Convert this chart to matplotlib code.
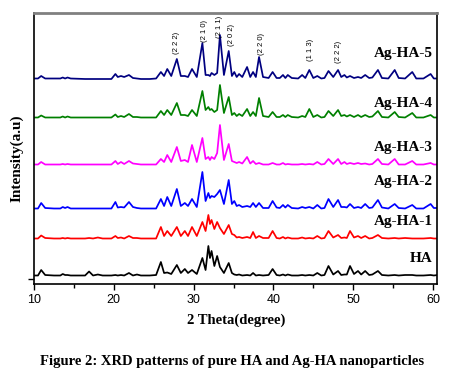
import matplotlib
matplotlib.use("Agg")
import matplotlib.pyplot as plt

# ---- data (2-theta vertices and intensities above each pattern's baseline) ----
two_theta = [10.0, 10.5, 10.9, 11.4, 12.5, 13.3, 13.6, 13.9, 14.2, 14.6,
             16.4, 16.9, 17.4, 18.0, 18.6, 19.7, 20.2, 20.5, 20.9, 21.3,
             21.9, 22.4, 22.9, 23.4, 24.5, 25.3, 25.9, 26.3, 26.7, 27.2,
             27.9, 28.4, 28.9, 29.3, 29.8, 30.4, 31.1, 31.5, 31.85, 32.05,
             32.25, 32.6, 32.95, 33.3, 33.8, 34.4, 34.8, 35.1, 35.4, 35.7,
             36.1, 36.7, 37.1, 37.45, 37.8, 38.2, 38.7, 39.4, 39.9, 40.4,
             40.8, 41.2, 41.5, 41.8, 42.3, 43.1, 43.6, 44.0, 44.5, 45.0,
             45.5, 46.0, 46.4, 46.9, 47.5, 48.1, 48.5, 48.9, 49.2, 49.6,
             50.1, 50.6, 51.0, 51.5, 52.0, 52.4, 53.1, 53.6, 54.4, 55.2,
             55.7, 56.5, 57.4, 57.9, 58.8, 59.7, 60.1, 60.6]

ha = [0.5, 0.5, 6, 1, 0.5, 0.5, 2, 1, 1, 0.5,
      0.5, 4.5, 0.5, 1.5, 0.5, 0.5, 1, 0.5, 1, 0.5,
      3, 0.5, 1.5, 0.5, 0.5, 1, 14, 3, 3.5, 2,
      11, 3, 7, 3, 6, 2, 18, 6, 30, 18,
      25, 10, 20, 9, 3, 13, 3, 1.5, 1, 1.5,
      0.5, 1, 0.5, 3, 0.5, 1, 0.5, 1, 7, 1,
      0.5, 1.5, 0.5, 1.5, 0.5, 0.5, 1, 0.5, 1, 0.5,
      3, 0.5, 1, 10, 1.5, 5, 1, 1.5, 1.5, 10,
      2, 5, 1.5, 5, 1, 1.5, 5, 1, 0.5, 1,
      0.5, 1, 1, 0.5, 0.5, 1, 0.5, 1]

ag_ha_1 = [0.5, 0.5, 3.5, 1, 0.5, 0.5, 1, 0.5, 1, 0.5,
           0.5, 1, 0.5, 1.5, 0.5, 0.5, 3, 1, 1.5, 0.5,
           3, 1, 1, 0.5, 0.5, 0.5, 12, 3, 8, 3,
           12, 3, 8, 3, 12, 3, 17, 8, 24, 15,
           19, 10, 17, 11, 5, 14, 5, 4, 1.5, 2,
           1, 2, 1, 7, 1, 3, 1, 1, 8, 1,
           0.5, 2, 0.5, 1.5, 0.5, 0.5, 1.5, 0.5, 1, 0.5,
           3, 0.5, 1, 8, 1.5, 4, 1, 1.5, 1, 8,
           1.5, 3, 1, 3, 0.5, 1, 4, 1, 0.5, 1,
           0.5, 1, 0.5, 0.5, 0.5, 1, 0.5, 0.5]

ag_ha_2 = [0.5, 0.5, 6, 1, 0.5, 0.5, 2, 1, 2, 0.5,
           0.5, 0.5, 0.5, 0.5, 0.5, 0.5, 7, 1.5, 2, 1.5,
           7, 2, 1, 0.5, 0.5, 0.5, 10, 3, 12, 3,
           20, 3, 6, 3, 10, 2, 37, 8, 16, 11,
           13, 12, 15, 19, 5, 29, 5, 8, 3, 4,
           2, 3, 2, 6, 2, 6, 1, 1, 8, 1.5,
           1, 4, 1.5, 4, 1, 0.5, 2, 1, 2, 0.5,
           4, 0.5, 1, 10, 2, 9, 2, 2, 1.5, 5,
           1, 2, 1, 5, 1, 1.5, 9, 1.5, 0.5, 5,
           1, 0.5, 4, 0.5, 0.5, 5, 1, 1]

ag_ha_3 = [0.5, 0.5, 3, 0.5, 0.5, 0.5, 1, 0.5, 1, 0.5,
           0.5, 0.5, 0.5, 0.5, 0.5, 0.5, 4, 1, 3, 1,
           4, 1.5, 1, 0.5, 0.5, 0.5, 6, 3, 10, 3,
           18, 4, 5, 3, 20, 3, 27, 6, 8, 5,
           8, 6, 12, 40, 5, 21, 4, 3, 2, 3,
           1.5, 8, 1.5, 4, 1, 2, 0.5, 0.5, 2, 0.5,
           0.5, 2, 0.5, 1, 0.5, 0.5, 1, 0.5, 1, 0.5,
           3, 0.5, 1, 6, 1, 6, 1, 3, 1, 2,
           1, 2, 1, 1.5, 0.5, 1, 6, 1, 0.5, 6,
           0.5, 0.5, 4, 0.5, 0.5, 2, 0.5, 0.5]

ag_ha_4 = [0.5, 0.5, 2.5, 0.5, 0.5, 0.5, 1.5, 0.5, 1.5, 0.5,
           0.5, 0.5, 0.5, 0.5, 0.5, 0.5, 3.5, 1, 2, 1,
           4, 1, 1, 0.5, 0.5, 0.5, 7, 3, 8, 3,
           15, 3, 3, 2, 8, 2, 27, 8, 11, 8,
           9, 6, 8, 33, 5, 21, 3, 5, 2, 4,
           2, 9, 2, 6, 2, 20, 2, 1, 6, 1,
           1, 3, 1, 3, 1, 0.5, 2, 1, 9, 1,
           3, 0.5, 1, 7, 2, 8, 2, 3, 1.5, 3,
           1, 3, 1, 3, 1, 1.5, 7, 1, 0.5, 6,
           1, 0.5, 5, 0.5, 0.5, 3, 0.5, 0.5]

ag_ha_5 = [0.5, 0.5, 3, 0.5, 0.5, 0.5, 1.5, 0.5, 1.5, 0.5,
           0, 0, 0, 0, 0, 0, 5, 2, 3, 2,
           4, 1, 0.5, 0, 0, 0.5, 7, 3, 10, 3,
           20, 3, 3, 2, 10, 2, 36, 4, 4, 3,
           6, 4, 6, 44, 4, 28, 3, 7, 2, 5,
           2, 12, 2, 7, 2, 22, 2, 1, 7, 1,
           1, 4, 1, 4, 1, 0.5, 4, 1, 9, 1,
           3, 0.5, 1, 8, 2, 9, 2, 4, 1.5, 3,
           1, 2, 1, 4, 1, 1.5, 9, 1, 0.5, 9,
           1, 0.5, 7, 0.5, 0.5, 5, 0.5, 0.5]

sample_names = ["HA", "Ag-HA-1", "Ag-HA-2", "Ag-HA-3", "Ag-HA-4", "Ag-HA-5"]
series = [ha, ag_ha_1, ag_ha_2, ag_ha_3, ag_ha_4, ag_ha_5]

planes = ["(2 2 2)", "(2 1 0)", "(2 1 1)", "(2 0 2)", "(2 2 0)", "(1 1 3)", "(2 2 2)"]
plane_theta = [27.8, 31.4, 33.3, 34.8, 38.5, 44.6, 48.1]

# ---- styles / layout ----
colors = ["#000000", "#ff0000", "#0000ff", "#ff00ff", "#008000", "#000080"]
offsets = [8, 45, 75, 119, 166, 205]
label_y = [25, 62, 102, 136, 181, 231]
plane_y = [241, 253, 257, 249, 240, 234, 232]

fig = plt.figure(figsize=(4.54, 3.81), dpi=100)
ax = fig.add_axes([34 / 454, 1 - 284 / 381, 403 / 454, 271 / 381])

for vals, off, col in zip(series, offsets, colors):
    ax.plot(two_theta, [v + off for v in vals], color=col, lw=1.25,
            solid_joinstyle="round")

for name, ly, col in zip(sample_names, label_y, colors):
    ax.text(60.0, ly, name, ha="right", va="center", fontsize=11,
            fontweight="bold", family="Liberation Serif", color="#000000")

for lab, tx, ty in zip(planes, plane_theta, plane_y):
    ax.text(tx, ty, lab, rotation=90, ha="center", va="center", fontsize=5.5,
            family="Liberation Sans", color="#000000")

ax.set_xlim(10, 60.5)
ax.set_ylim(0, 271)
ax.set_xticks([10, 20, 30, 40, 50, 60])
ax.set_xticks([15, 25, 35, 45, 55], minor=True)
ax.set_yticks([5])
ax.set_yticklabels([])
ax.tick_params(axis="x", direction="out", length=4, width=1, labelsize=9, pad=3)
ax.tick_params(axis="x", which="minor", direction="out", length=3, width=1)
ax.tick_params(axis="y", direction="out", length=4, width=1)
for lbl in ax.get_xticklabels():
    lbl.set_family("Liberation Sans")

for s in ["left", "bottom", "right"]:
    ax.spines[s].set_color("black")
    ax.spines[s].set_linewidth(1.2)
ax.spines["top"].set_color("#808080")
ax.spines["top"].set_linewidth(2)

fig.text(236 / 454, 1 - 320 / 381, "2 Theta(degree)", ha="center", va="center",
         fontsize=10.5, fontweight="bold", family="Liberation Serif")
fig.text(17 / 454, 1 - 158 / 381, "Intensity(a.u)", ha="center", va="center",
         rotation=90, fontsize=11, fontweight="bold", family="Liberation Serif")
fig.text(232 / 454, 1 - 362 / 381,
         "Figure 2: XRD patterns of pure HA and Ag-HA nanoparticles",
         ha="center", va="center", fontsize=10.5, fontweight="bold",
         family="Liberation Serif")

fig.savefig("out.png", dpi=100)
